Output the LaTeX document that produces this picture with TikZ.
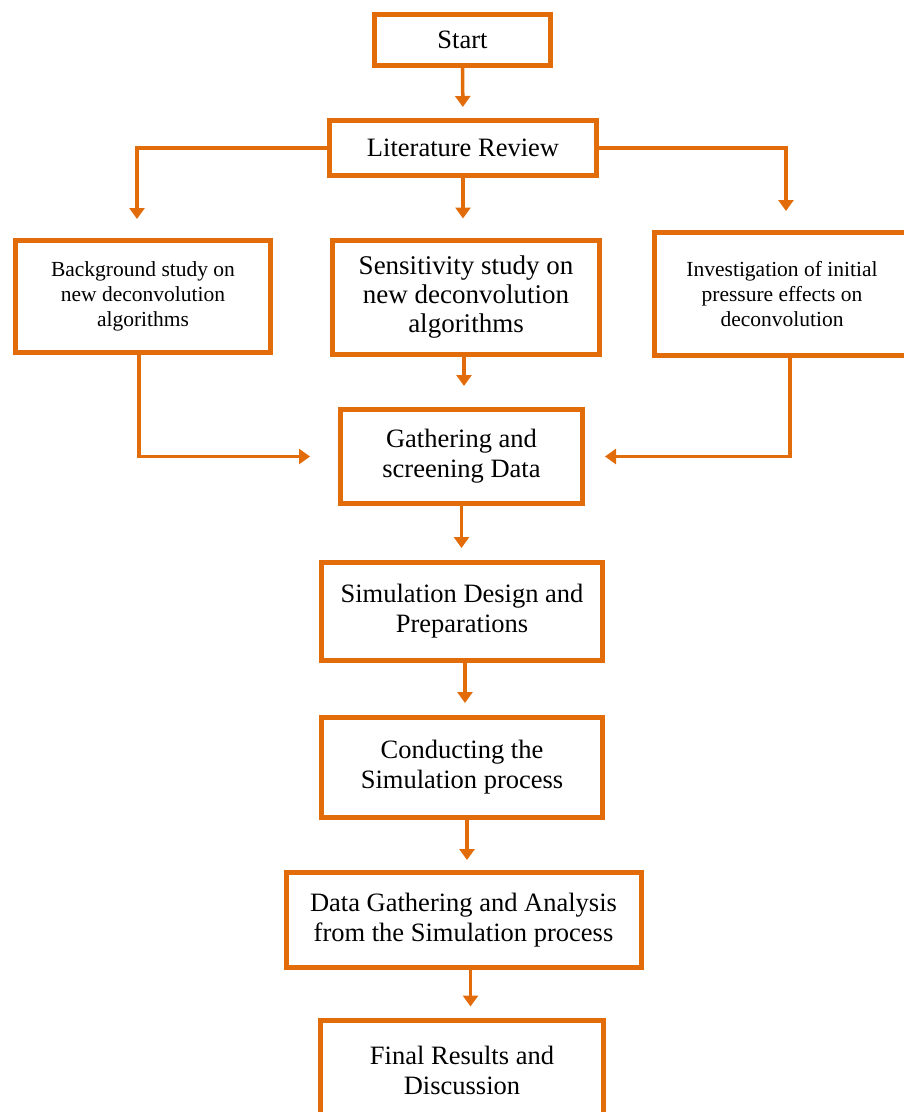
\documentclass[tikz,border=0pt]{standalone}
\usepackage{fontspec}
\setmainfont{Liberation Serif}
\usetikzlibrary{arrows.meta}
\definecolor{orng}{HTML}{E36C0A}
\begin{document}
\begin{tikzpicture}[x=1pt,y=-1pt,
  box/.style={draw=orng, line width=5pt, fill=white, align=center, inner sep=2pt,
    font=\fontsize{26.5}{30}\selectfont},
  smallbox/.style={box, font=\fontsize{21.5}{25}\selectfont},
  conn/.style={draw=orng, line width=3.5pt, -{Triangle[length=11pt,width=15pt]}}
]
\useasboundingbox (0,0) rectangle (904,1112);
\fill[white] (0,0) rectangle (904,1112);
\clip (0,0) rectangle (904,1112);

\node[box, minimum width=176pt, minimum height=51pt] (start) at (462.5,40) {Start};
\node[box, minimum width=267pt, minimum height=55pt] (lit) at (463,148) {Literature Review};
\node[smallbox, minimum width=255pt, minimum height=112pt] (bg) at (143,296.5)
  {Background study on\\new deconvolution\\algorithms};
\node[box, font=\fontsize{27}{29}\selectfont, minimum width=267pt, minimum height=114pt] (sens) at (466,297)
  {Sensitivity study on\\new deconvolution\\algorithms};
\node[smallbox, minimum width=255pt, minimum height=123pt] (inv) at (782,294)
  {Investigation of initial\\pressure effects on\\deconvolution};
\node[box, minimum width=242pt, minimum height=94pt] (gath) at (461.5,456.5)
  {Gathering and\\screening Data};
\node[box, minimum width=281pt, minimum height=98pt] (sim) at (462,611.5)
  {Simulation Design and\\Preparations};
\node[box, minimum width=281pt, minimum height=100pt] (cond) at (462,767.5)
  {Conducting the\\Simulation process};
\node[box, minimum width=355pt, minimum height=95pt] (data) at (463.5,920)
  {Data Gathering and Analysis\\from the Simulation process};
\node[box, minimum width=283pt, minimum height=100pt] (final) at (462,1070)
  {Final Results and\\Discussion};

\draw[conn, shorten >=11pt] (start) -- (lit);
\draw[conn, shorten >=19pt] (lit.west) -| ([xshift=-6pt]bg.north);
\draw[conn, shorten >=19pt] (lit.east) -| ([xshift=4pt]inv.north);
\draw[conn, shorten >=19pt] (lit.south) -- (lit.south |- sens.north);
\draw[conn, shorten >=21pt] ([xshift=-2pt]sens.south) -- ([xshift=-2pt]sens.south |- gath.north);
\draw[conn, shorten >=28pt] ([xshift=-4pt]bg.south) |- (gath.west);
\draw[conn, shorten >=20pt] ([xshift=8pt]inv.south) |- (gath.east);
\draw[conn, shorten >=12pt] (gath.south) -- (gath.south |- sim.north);
\draw[conn, shorten >=12pt] ([xshift=3pt]sim.south) -- ([xshift=3pt]sim.south |- cond.north);
\draw[conn, shorten >=10pt] ([xshift=5pt]cond.south) -- ([xshift=5pt]cond.south |- data.north);
\draw[conn, shorten >=11pt] ([xshift=7pt]data.south) -- ([xshift=7pt]data.south |- final.north);
\end{tikzpicture}
\end{document}
